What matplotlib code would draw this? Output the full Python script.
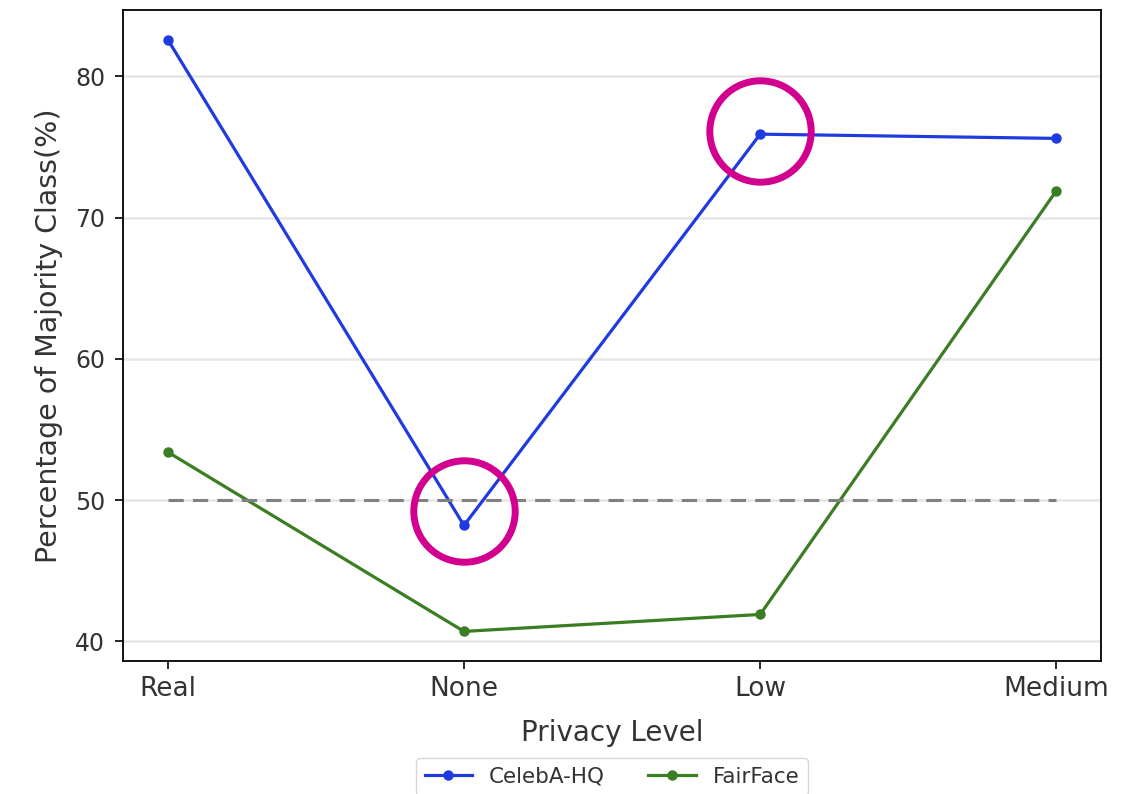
import matplotlib
matplotlib.use("Agg")
import matplotlib.pyplot as plt

privacy_levels = ["Real", "None", "Low", "Medium"]
celeba_hq = [82.6, 48.2, 75.9, 75.6]
fairface = [53.4, 40.7, 41.9, 71.9]
balance_line = 50
highlight_x = [1, 2]
highlight_y = [49.25, 76.1]

text_grey = "#333333"
plt.rcParams["text.color"] = text_grey
plt.rcParams["axes.labelcolor"] = text_grey
plt.rcParams["xtick.labelcolor"] = text_grey
plt.rcParams["ytick.labelcolor"] = text_grey

fig = plt.figure(figsize=(11.21, 7.94), dpi=100)
ax = fig.add_axes([0.110, 0.1675, 0.872, 0.820])

x = list(range(len(privacy_levels)))
ax.plot(x, celeba_hq, color="#1f3be0", marker="o", markersize=6.5, linewidth=2.3, label="CelebA-HQ")
ax.plot(x, fairface, color="#3a7d23", marker="o", markersize=6.5, linewidth=2.3, label="FairFace")
ax.plot([x[0], x[-1]], [balance_line, balance_line], color="gray", linewidth=2.2, dashes=(5, 3))

ax.plot(highlight_x, highlight_y, linestyle="none", marker="o", markersize=73,
        markerfacecolor="none", markeredgecolor="#d1008f", markeredgewidth=5, zorder=5)

ax.set_xticks(x)
ax.set_xticklabels(privacy_levels)
ax.set_yticks([40, 50, 60, 70, 80])
ax.tick_params(axis="both", length=6, width=1.2)
ax.tick_params(axis="y", pad=7, labelsize=17)
ax.tick_params(axis="x", pad=5, labelsize=19)
ax.yaxis.grid(True, color="#e6e6e6", linewidth=1.8)
ax.set_axisbelow(True)
for s in ax.spines.values():
    s.set_linewidth(1.3)

ax.set_xlabel("Privacy Level", fontsize=20, labelpad=12)
ax.set_ylabel("Percentage of Majority Class(%)", fontsize=20.5, labelpad=9)

handles, labels = ax.get_legend_handles_labels()
ax.legend(handles[:2], labels[:2], loc="upper center", bbox_to_anchor=(0.5, -0.133), ncol=2,
          fontsize=15.5, frameon=True, edgecolor="#cccccc", fancybox=True,
          columnspacing=2.0, handlelength=2.2)

fig.savefig("out.png", dpi=100)
